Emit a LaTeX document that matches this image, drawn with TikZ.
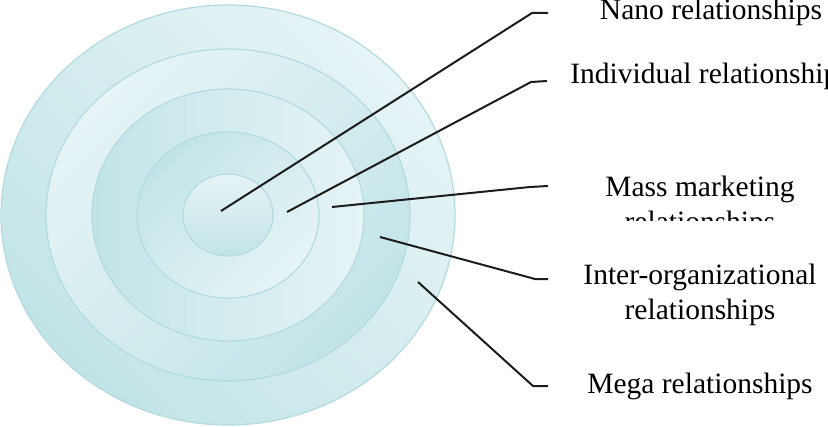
\documentclass[tikz,border=0pt]{standalone}
\usepackage{fontspec}
\setmainfont{Liberation Serif}
\definecolor{ringdark}{RGB}{194,228,231}
\definecolor{ringlight}{RGB}{230,244,246}
\definecolor{ringedge}{RGB}{178,219,223}
\definecolor{leadgray}{RGB}{28,28,28}
\tikzset{
  ring/.style={draw=ringedge,line width=0.6pt,top color=ringdark,bottom color=ringlight,shading angle=#1},
  leader/.style={draw=leadgray,line width=1pt},
  tag/.style={font=\fontsize{14.75}{17.5}\selectfont,align=center,inner sep=0pt}
}
\begin{document}
\begin{tikzpicture}[x=0.5pt,y=-0.5pt]
	\clip (0,0) rectangle (828,427);
	\coordinate (c) at (228,215);
	% the five rings, outermost first
	\path[ring=135] (c) ellipse [x radius=113.5pt,y radius=105pt];
	\path[ring=225] (c) ellipse [x radius=91pt,y radius=83pt];
	\path[ring=90]  (c) ellipse [x radius=68pt,y radius=63pt];
	\path[ring=45]  (c) ellipse [x radius=45.5pt,y radius=41.5pt];
	\path[ring=180] (c) ellipse [x radius=22.5pt,y radius=20.5pt];
	% labels
	\node[tag,anchor=base] (nano) at (711,20) {Nano relationships};
	\node[tag,anchor=base] (indiv) at (710,84) {Individual relationships};
	\begin{scope}
		\clip (560,150) rectangle (828,220);
		\node[tag,anchor=north] (mass) at (700,176) {Mass marketing\\relationships};
	\end{scope}
	\node[tag,anchor=north] (inter) at (700,264) {Inter-organizational\\relationships};
	\node[tag,anchor=base] (mega) at (700,393) {Mega relationships};
	% leader lines
	\path
	(221,211) coordinate (nano-pt)  (532,13)  coordinate (nano-knee)  (548,13)  coordinate (nano-end)
	(287,212) coordinate (indiv-pt) (531,82)  coordinate (indiv-knee) (547,81)  coordinate (indiv-end)
	(332,207) coordinate (mass-pt)  (530,187) coordinate (mass-knee)  (548,186) coordinate (mass-end)
	(380,237) coordinate (inter-pt) (535,279) coordinate (inter-knee) (548,279) coordinate (inter-end)
	(418,282) coordinate (mega-pt)  (533,386) coordinate (mega-knee)  (548,386) coordinate (mega-end)
	;
	\draw[leader] (nano-pt) -- (nano-knee) -- (nano-end);
	\draw[leader] (indiv-pt) -- (indiv-knee) -- (indiv-end);
	\draw[leader] (mass-pt) -- (mass-knee) -- (mass-end);
	\draw[leader] (inter-pt) -- (inter-knee) -- (inter-end);
	\draw[leader] (mega-pt) -- (mega-knee) -- (mega-end);
\end{tikzpicture}
\end{document}
